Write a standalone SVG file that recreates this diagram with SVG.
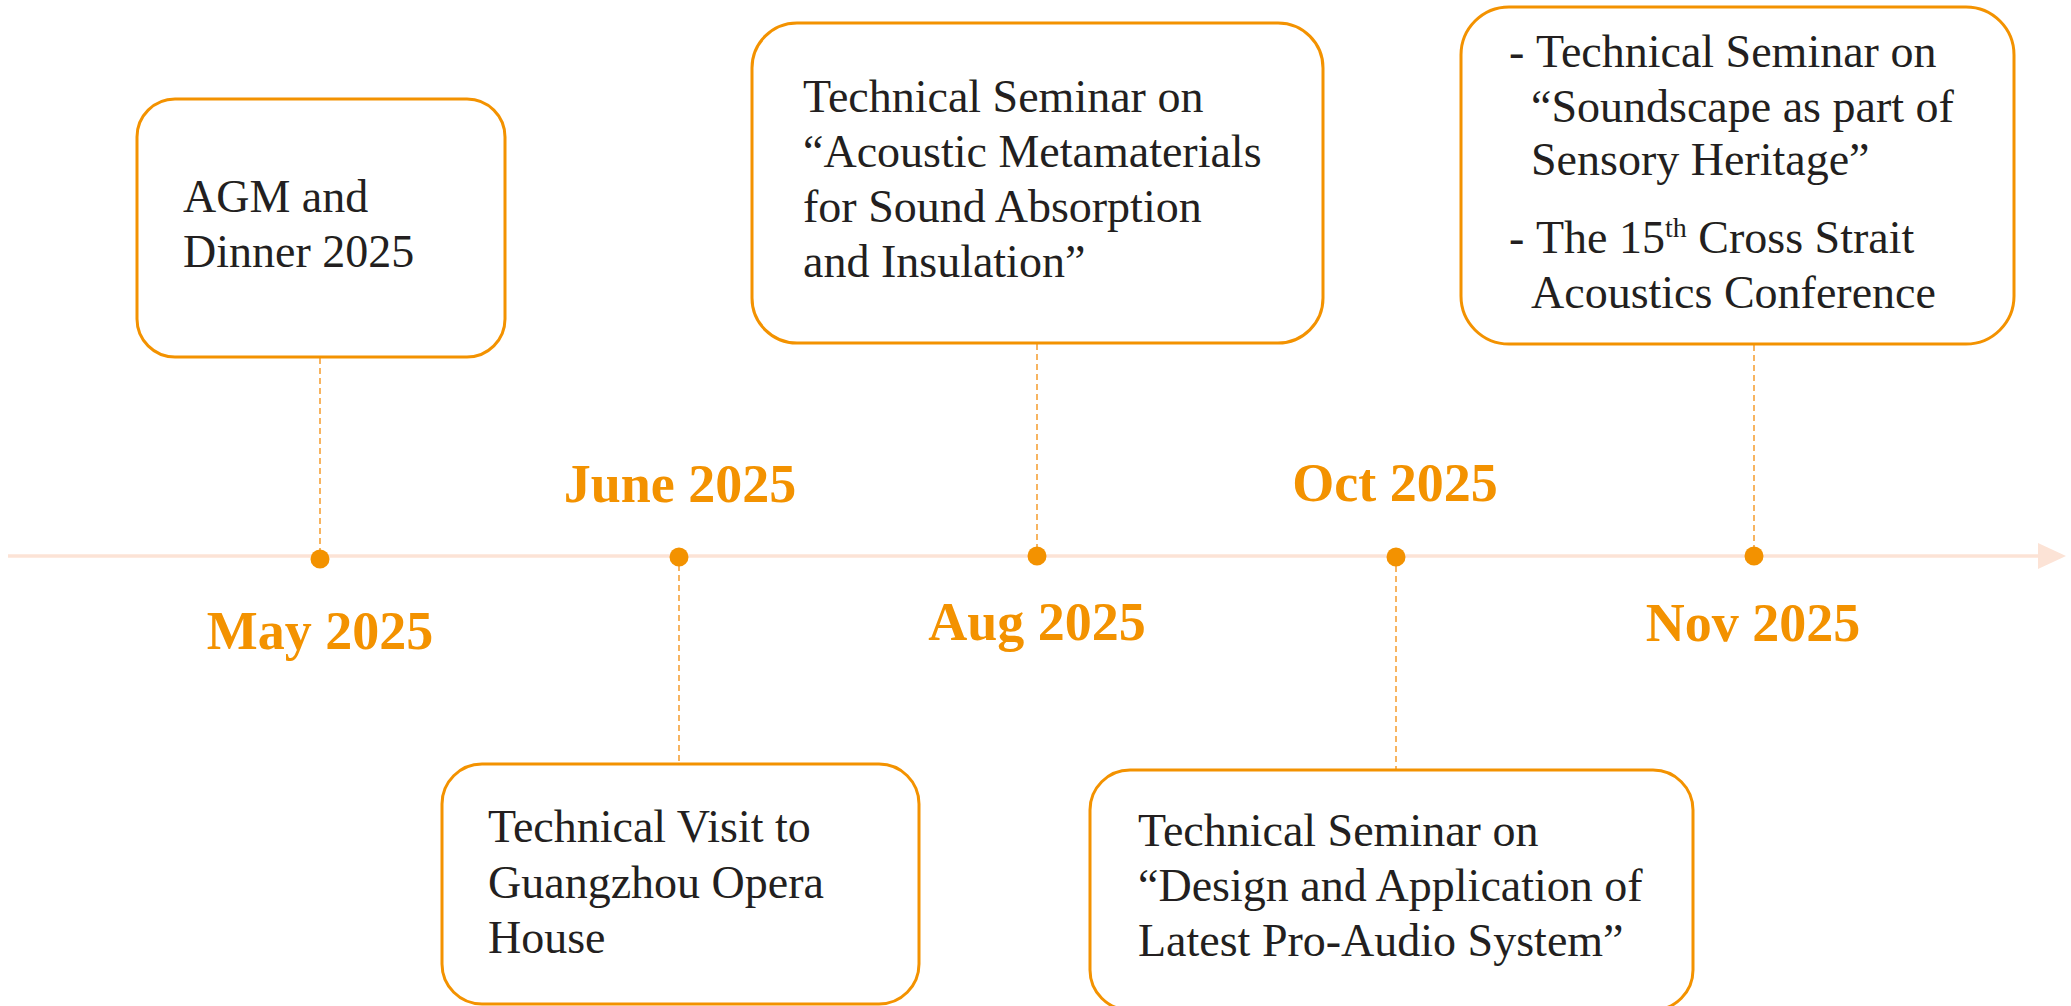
<svg xmlns="http://www.w3.org/2000/svg" width="2071" height="1006" viewBox="0 0 2071 1006">
<style>
.box{fill:#fff;stroke:#F39200;stroke-width:3}
.t{font-family:"Liberation Serif","Times New Roman",serif;font-size:46px;fill:#231F20}
.sup{font-size:28px}
.date{font-family:"Liberation Serif","Times New Roman",serif;font-size:54px;font-weight:bold;fill:#F39200;text-anchor:middle}
.dash{stroke:#F5A23A;stroke-width:1.6;stroke-dasharray:6 4;fill:none}
.dot{fill:#F39200}
</style>
<rect width="2071" height="1006" fill="#fff"/>
<g id="timeline">
<line x1="8" y1="556" x2="2040" y2="556" stroke="#FCE3D6" stroke-width="3.5"/>
<polygon points="2038,543 2066,556 2038,569" fill="#FCE3D6"/>
</g>
<g id="connectors">
<line class="dash" x1="320" y1="358" x2="320" y2="552"/>
<line class="dash" x1="679" y1="565" x2="679" y2="764"/>
<line class="dash" x1="1037" y1="344" x2="1037" y2="548"/>
<line class="dash" x1="1396" y1="566" x2="1396" y2="770"/>
<line class="dash" x1="1754" y1="345" x2="1754" y2="548"/>
</g>
<g id="may">
<circle class="dot" cx="320" cy="559" r="9.5"/>
<text class="date" x="320" y="649">May 2025</text>
<rect class="box" x="137" y="99" width="368" height="258" rx="38"/>
<text class="t" x="183" y="212">AGM and</text>
<text class="t" x="183" y="267">Dinner 2025</text>
</g>
<g id="june">
<circle class="dot" cx="679" cy="557" r="9.5"/>
<text class="date" x="680" y="502">June 2025</text>
<rect class="box" x="442" y="764" width="477" height="240" rx="40"/>
<text class="t" x="488" y="842">Technical Visit to</text>
<text class="t" x="488" y="898">Guangzhou Opera</text>
<text class="t" x="488" y="953">House</text>
</g>
<g id="aug">
<circle class="dot" cx="1037" cy="556" r="9.5"/>
<text class="date" x="1037" y="640">Aug 2025</text>
<rect class="box" x="752" y="23" width="571" height="320" rx="45"/>
<text class="t" x="803" y="112">Technical Seminar on</text>
<text class="t" x="803" y="167">“Acoustic Metamaterials</text>
<text class="t" x="803" y="222">for Sound Absorption</text>
<text class="t" x="803" y="277">and Insulation”</text>
</g>
<g id="oct">
<circle class="dot" cx="1396" cy="557" r="9.5"/>
<text class="date" x="1395" y="501">Oct 2025</text>
<rect class="box" x="1090" y="770" width="603" height="240" rx="40"/>
<text class="t" x="1138" y="846">Technical Seminar on</text>
<text class="t" x="1138" y="901">“Design and Application of</text>
<text class="t" x="1138" y="956">Latest Pro-Audio System”</text>
</g>
<g id="nov">
<circle class="dot" cx="1754" cy="556" r="9.5"/>
<text class="date" x="1753" y="641">Nov 2025</text>
<rect class="box" x="1461" y="7" width="553" height="337" rx="48"/>
<text class="t" x="1509" y="67">-</text>
<text class="t" x="1536" y="67">Technical Seminar on</text>
<text class="t" x="1531" y="122">“Soundscape as part of</text>
<text class="t" x="1531" y="175">Sensory Heritage”</text>
<text class="t" x="1509" y="253">-</text>
<text class="t" x="1536" y="253">The 15<tspan class="sup" dy="-16">th</tspan><tspan dy="16"> Cross Strait</tspan></text>
<text class="t" x="1531" y="308">Acoustics Conference</text>
</g>
</svg>
